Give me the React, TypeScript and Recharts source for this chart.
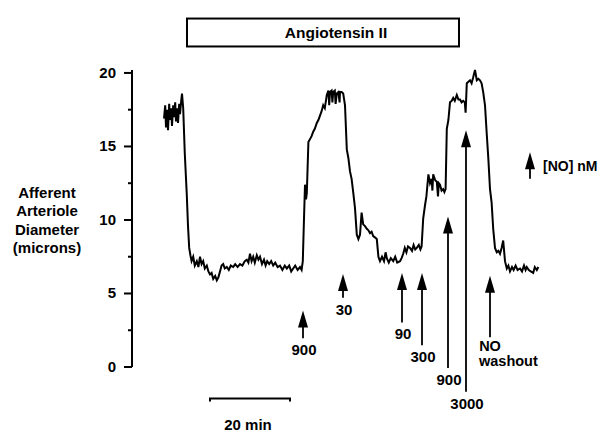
import { LineChart, Line, XAxis, YAxis, ReferenceLine, ReferenceArea } from 'recharts'

document.body.style.margin = '0'

const FONT = '"Liberation Sans", Arial, Helvetica, sans-serif'

// trace: time (min) vs afferent arteriole diameter (microns)
const traceTime = [
  8, 8.3, 8.5, 8.8, 9, 9.3, 9.5, 9.8, 10, 10.3, 10.5, 10.8, 11, 11.3, 11.5, 11.8, 12, 12.3, 12.5, 12.8,
  13.2, 13.7, 14, 14.3, 14.6, 14.9, 15.3, 15.7, 16.2, 16.6, 17, 17.4, 17.8, 18.2, 18.7, 19.1, 19.5, 19.9,
  20.3, 20.8, 21.2, 21.6, 22, 22.4, 22.8, 23.2, 23.7, 24.2, 24.7, 25.3, 25.8, 26.4, 27, 27.6, 28.2, 28.7,
  29.1, 29.5, 29.9, 30.3, 30.7, 31.2, 31.6, 32, 32.5, 33, 33.4, 33.8, 34.3, 34.8, 35.3, 35.8, 36.4, 37,
  37.6, 38.2, 38.7, 39.3, 39.8, 40.3, 40.8, 41.4, 42, 42.4, 42.7, 43, 43.25, 43.5, 43.7, 44.1, 44.5, 44.9,
  45.3, 45.7, 46.2, 46.6, 47, 47.4, 47.8, 48.2, 48.7, 49.1, 49.3, 49.5, 49.9, 50.1, 50.3, 50.7, 50.9,
  51.2, 51.6, 51.9, 52, 52.4, 52.8, 53.25, 53.7, 54.1, 54.5, 54.9, 55.3, 55.75, 56.2, 56.6, 57, 57.4,
  57.8, 58.2, 58.7, 59.1, 59.5, 59.9, 60.3, 60.8, 61.2, 61.6, 62, 62.5, 63, 63.4, 63.7, 64.2, 64.7, 65.3,
  65.8, 66.3, 67, 67.4, 67.8, 68.2, 68.6, 69, 69.5, 70, 70.4, 70.8, 71.2, 71.7, 72.1, 72.4, 72.8, 73.25,
  73.6, 74.1, 74.5, 74.9, 75.1, 75.3, 75.8, 76.2, 76.5, 76.7, 77, 77.4, 77.8, 78.1, 78.4, 78.7, 79.1,
  79.5, 79.9, 80.3, 80.7, 81.2, 81.6, 82, 82.4, 82.8, 83.2, 83.4, 83.7, 84.1, 84.5, 84.9, 85.3, 85.75,
  86.2, 86.6, 87, 87.4, 87.8, 88.25, 88.7, 89.1, 89.5, 89.9, 90.3, 90.75, 91.2, 91.6, 92, 92.4, 92.8,
  93.25, 93.7, 94.1, 94.5, 95, 95.4, 95.9, 96.4, 97, 97.5, 98, 98.4, 98.7, 99.2, 99.7, 100.3, 100.7,
  101.2, 101.6,
]
const traceDiameter = [
  16.9, 17.8, 16.3, 17.5, 16.1, 17.9, 16.8, 17.6, 16.4, 17.8, 17.0, 18.0, 16.7, 17.6, 16.6, 17.9, 17.2, 18.1, 18.6, 17.6,
  14.5, 11.7, 9.6, 8.1, 7.6, 7.2, 7.5, 6.9, 7.2, 6.8, 7.5, 7.0, 7.2, 6.7, 6.9, 6.5, 6.3, 6.4,
  6.0, 6.2, 5.9, 6.1, 6.5, 6.9, 7.0, 6.7, 6.8, 6.6, 6.9, 6.8, 7.0, 6.8, 7.0, 6.9, 7.2, 7.3,
  7.1, 7.7, 7.2, 7.5, 7.1, 7.6, 7.3, 7.5, 7.0, 7.3, 6.9, 7.2, 7.0, 7.2, 6.9, 7.1, 6.8, 6.9,
  6.6, 6.9, 6.7, 6.9, 6.5, 6.7, 6.9, 6.6, 6.8, 6.6, 7.2, 10.1, 12.4, 11.4, 11.8, 15.3, 15.5, 15.7,
  16.0, 16.2, 16.6, 16.8, 17.1, 17.4, 17.8, 17.6, 18.5, 18.8, 17.8, 18.7, 18.8, 18.0, 18.7, 18.8, 17.9,
  18.6, 18.7, 18.0, 18.7, 18.7, 18.6, 17.8, 14.8, 14.2, 13.3, 12.8, 11.9, 10.8, 9.0, 8.7, 9.0, 10.5,
  9.7, 9.6, 9.4, 9.3, 9.1, 9.2, 8.9, 8.8, 8.7, 7.5, 7.2, 7.5, 7.2, 7.8, 7.4, 7.1, 7.4, 7.2,
  7.5, 7.1, 7.2, 7.4, 7.7, 8.1, 7.8, 8.2, 8.1, 7.9, 8.3, 8.0, 8.1, 8.3, 8.0, 8.2, 10.1, 11.0,
  11.6, 13.1, 12.5, 12.8, 12.0, 13.1, 12.7, 12.6, 11.6, 12.5, 12.4, 12.0, 12.1, 11.9, 12.1, 16.2, 16.8,
  18.0, 18.1, 18.3, 18.1, 18.5, 18.2, 18.2, 18.0, 18.1, 18.0, 17.3, 19.3, 19.4, 19.5, 19.3, 19.7, 20.2,
  19.5, 19.6, 19.5, 19.3, 18.7, 17.8, 15.8, 14.1, 12.1, 11.2, 9.4, 8.1, 7.8, 7.9, 7.7, 8.1, 8.6,
  7.2, 6.7, 6.9, 6.5, 6.8, 6.6, 6.9, 6.6, 6.7, 6.5, 6.9, 6.6, 6.8, 6.6, 6.5, 6.4, 6.8,
  6.6, 6.8,
]

// [NO] additions (arrows): time, arrow tip, arrow base, label
const arrowTime = [42.75, 52.75, 67.5, 72.5, 79, 83.5, 89.5]
const arrowTip = [3.84, 6.33, 6.4, 6.4, 10.24, 16.1, 6.2]
const arrowBase = [1.95, 4.71, 3.03, 1.48, -0.07, -1.68, 2.02]
const arrowLabel = ['900', '30', '90', '300', '900', '3000', 'NO washout']

const yTicks = [0, 2.5, 5, 7.5, 10, 12.5, 15, 17.5, 20]
const yLabelLines = ['Afferent', 'Arteriole', 'Diameter', '(microns)']

const data = traceTime.map((t, i) => ({ t, d: traceDiameter[i] }))

const textStyle = { fontFamily: FONT, fontWeight: 'bold' as const, fill: '#000' }

function DiameterTick(props: any) {
  const { x, y, payload } = props
  const major = payload.value % 5 === 0
  return (
    <g>
      <line x1={x - (major ? 8 : 4)} x2={x} y1={y} y2={y} stroke="#000" strokeWidth={2} />
      {major && (
        <text x={x - 16} y={y} dy={5} textAnchor="end" fontSize={15} {...textStyle}>
          {payload.value}
        </text>
      )}
      {payload.value === 10 &&
        yLabelLines.map((line, i) => (
          <text key={line} x={x - 85} y={y - 22 + i * 18.3} textAnchor="middle" fontSize={15} {...textStyle}>
            {line}
          </text>
        ))}
    </g>
  )
}

function arrowHead(x: number, tip: number) {
  return <polygon points={`${x},${tip} ${x - 5},${tip + 17} ${x + 5},${tip + 17}`} fill="#000" />
}

function arrowShape(label: string) {
  return (p: any) => {
    const x = p.x1
    const tip = Math.min(p.y1, p.y2)
    const base = Math.max(p.y1, p.y2)
    const words = label.split(' ')
    return (
      <g>
        <line x1={x} x2={x} y1={tip + 10} y2={base} stroke="#000" strokeWidth={1.8} />
        {arrowHead(x, tip)}
        {words.length === 1 ? (
          <text x={x + 1} y={base + 17} textAnchor="middle" fontSize={15} {...textStyle}>
            {label}
          </text>
        ) : (
          <>
            <text x={x} y={base + 14} textAnchor="middle" fontSize={14.5} {...textStyle}>
              {words[0]}
            </text>
            <text x={x - 11} y={base + 29} textAnchor="start" fontSize={14.5} {...textStyle}>
              {words[1]}
            </text>
          </>
        )}
      </g>
    )
  }
}

function legendShape(p: any) {
  const x = p.x1
  const tip = Math.min(p.y1, p.y2)
  const base = Math.max(p.y1, p.y2)
  return (
    <g>
      <line x1={x} x2={x} y1={tip + 10} y2={base} stroke="#000" strokeWidth={1.8} />
      {arrowHead(x, tip)}
      <text x={x + 13} y={(tip + base) / 2 + 5} fontSize={14} {...textStyle}>
        [NO] nM
      </text>
    </g>
  )
}

function scaleBarShape(p: any) {
  const { x1, x2, y1 } = p
  return (
    <g>
      <path d={`M${x1},${y1 + 3}V${y1}H${x2}V${y1 + 3}`} stroke="#000" strokeWidth={2} fill="none" />
      <text x={(x1 + x2) / 2 - 2} y={y1 + 31} textAnchor="middle" fontSize={15} {...textStyle}>
        20 min
      </text>
    </g>
  )
}

function titleShape(p: any) {
  const { x, y, width, height } = p
  return (
    <g>
      <rect x={x} y={y} width={width} height={height} fill="#fff" stroke="#000" strokeWidth={2} />
      <text x={x + width / 2 + 13} y={y + height / 2 + 5} textAnchor="middle" fontSize={15.5} {...textStyle}>
        Angiotensin II
      </text>
    </g>
  )
}

export default function App() {
  return (
    <LineChart width={605} height={432} data={data} margin={{ top: 70, right: 61, bottom: 65, left: 0 }}>
      <XAxis type="number" dataKey="t" domain={[0, 103]} hide />
      <YAxis
        domain={[0, 20]}
        ticks={yTicks}
        width={132}
        tickSize={0}
        tickMargin={0}
        tickLine={false}
        axisLine={{ stroke: '#000', strokeWidth: 2 }}
        tick={<DiameterTick />}
        interval={0}
      />
      <ReferenceArea
        x1={13.75}
        x2={81.75}
        y1={21.8}
        y2={23.7}
        ifOverflow="visible"
        shape={titleShape}
      />
      <Line
        type="linear"
        dataKey="d"
        stroke="#000"
        strokeWidth={2}
        dot={false}
        isAnimationActive={false}
      />
      {arrowTime.map((t, i) => (
        <ReferenceLine
          key={i}
          segment={[
            { x: t, y: arrowBase[i] },
            { x: t, y: arrowTip[i] },
          ]}
          ifOverflow="visible"
          shape={arrowShape(arrowLabel[i])}
        />
      ))}
      <ReferenceLine
        segment={[
          { x: 99.5, y: 12.8 },
          { x: 99.5, y: 14.6 },
        ]}
        ifOverflow="visible"
        shape={legendShape}
      />
      <ReferenceLine
        segment={[
          { x: 19.5, y: -2.15 },
          { x: 39.5, y: -2.15 },
        ]}
        ifOverflow="visible"
        shape={scaleBarShape}
      />
    </LineChart>
  )
}
